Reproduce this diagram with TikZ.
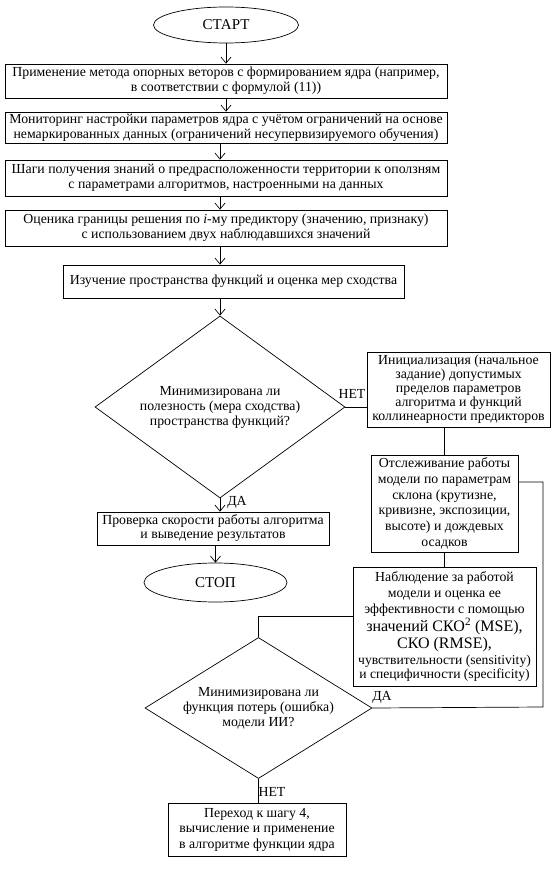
\documentclass[tikz,border=0pt]{standalone}
\usepackage{fontspec}
\setmainfont{Liberation Serif}
\usetikzlibrary{shapes.geometric,arrows.meta,calc}
\tikzset{
  base/.style={font=\fontsize{13.8pt}{15pt}\selectfont, align=center, inner sep=0pt, line width=0.7pt},
  boxnode/.style={base, draw, rectangle},
  ovalnode/.style={base, draw, ellipse, font=\fontsize{15pt}{16pt}\selectfont},
  decision/.style={base, draw, diamond},
  lbl/.style={base},
  link/.style={line width=0.7pt},
  flow/.style={link, -{Straight Barb[length=6pt,width=10pt]}}
}
\newcommand{\bigln}[1]{{\fontsize{16pt}{16pt}\selectfont #1}}
\newcommand{\smallln}[1]{{\fontsize{13.6pt}{16pt}\selectfont #1}}
\begin{document}
\begin{tikzpicture}[x=1pt,y=-1pt]
\useasboundingbox (0,0) rectangle (557,869);

\node[ovalnode, minimum width=145pt, minimum height=36pt] (start) at (226,25) {СТАРТ};
\node[boxnode, minimum width=442pt, minimum height=34pt] (b1) at (226,81)
  {Применение метода опорных веторов с формированием ядра (например,\\ в соответствии с формулой (11))};
\node[boxnode, minimum width=442pt, minimum height=31pt] (b2) at (226,127.5)
  {Мониторинг настройки параметров ядра с учётом ограничений на основе\\ немаркированных данных (ограничений несупервизируемого обучения)};
\node[boxnode, minimum width=442pt, minimum height=36pt] (b3) at (226,178)
  {Шаги получения знаний о предрасположенности территории к оползням\\ с параметрами алгоритмов, настроенными на данных};
\node[boxnode, minimum width=442pt, minimum height=36pt] (b4) at (226,228)
  {Оценика границы решения по \textit{i}-му предиктору (значению, признаку)\\ с использованием двух наблюдавшихся значений};
\node[boxnode, minimum width=341pt, minimum height=33pt] (b5) at (233.5,281.5)
  {Изучение пространства функций и оценка мер сходства};
\node[decision, minimum width=250pt, minimum height=182pt, aspect=1.37] (d1) at (220,407)
  {Минимизирована ли\\ полезность (мера сходства)\\ пространства функций?};
\node[boxnode, minimum width=183pt, minimum height=75pt, font=\fontsize{13.8pt}{14pt}\selectfont] (r1) at (458.5,389.5)
  {Инициализация (начальное\\ задание) допустимых\\ пределов параметров\\ алгоритма и функций\\ коллинеарности предикторов};
\node[boxnode, minimum width=147pt, minimum height=97pt, font=\fontsize{13.8pt}{15.7pt}\selectfont] (r2) at (444.5,503.5)
  {Отслеживание работы\\ модели по параметрам\\ склона (крутизне,\\ кривизне, экспозиции,\\ высоте) и дождевых\\ осадков};
\node[boxnode, minimum width=232pt, minimum height=33pt, font=\fontsize{13.8pt}{14pt}\selectfont] (bl) at (213,528.5)
  {Проверка скорости работы алгоритма\\ и выведение результатов};
\node[ovalnode, minimum width=143pt, minimum height=39pt] (stop) at (215.5,582.5) {СТОП};
\node[boxnode, minimum width=183pt, minimum height=119pt, font=\fontsize{13.8pt}{16pt}\selectfont] (r3) at (444.5,626.5)
  {Наблюдение за работой\\ модели и оценка ее\\ эффективности с помощью\\[1pt]
   \bigln{значений СКО\textsuperscript{2} (MSE),}\\[1pt]
   \bigln{СКО (RMSE),}\\
   \smallln{чувствительности (sensitivity)}\\[-2pt]
   \smallln{и специфичности (specificity)}};
\node[decision, minimum width=227pt, minimum height=141pt, aspect=1.61] (d2) at (258.5,708)
  {Минимизирована ли\\ функция потерь (ошибка)\\ модели ИИ?};
\node[boxnode, minimum width=178pt, minimum height=53pt, font=\fontsize{13.8pt}{15.5pt}\selectfont] (bb) at (257,829.5)
  {Переход к шагу 4,\\ вычисление и применение\\ в алгоритме функции ядра};

\node[lbl] (no1) at (352,394) {НЕТ};
\node[lbl] (yes1) at (237,502) {ДА};
\node[lbl] (yes2) at (382,697) {ДА};
\node[lbl] (no2) at (272,792) {НЕТ};

\coordinate (k1) at (543,482);
\coordinate (k2) at (543,707);
\coordinate (k3) at (258.5,616);

\draw[flow] (start.south -| b1.north) -- (b1.north);
\draw[flow] (b1.south) -- (b2.north);
\draw[flow] (b2.south -| d1.north) -- (b3.north -| d1.north);
\draw[flow] (b3.south -| d1.north) -- (b4.north -| d1.north);
\draw[flow] (b4.south -| d1.north) -- (b5.north -| d1.north);
\draw[flow] (b5.south -| d1.north) -- (d1.north);
\draw[flow] (d1.south) -- (bl.north -| d1.south);
\draw[flow] (bl.south -| stop.north) -- (stop.north);
\draw[link] (d1.east) -- (r1.west |- d1.east);
\draw[link] (r1.south -| r2.north) -- (r2.north);
\draw[link] (r2.south -| r3.north) -- (r3.north);
\draw[link] (r3.west |- k3) -- (k3) -- (d2.north);
\draw[link] (r2.east |- k1) -- (k1) -- (k2) -- (d2.east);
\draw[link] (d2.south) -- (bb.north -| d2.south);
\end{tikzpicture}
\end{document}
